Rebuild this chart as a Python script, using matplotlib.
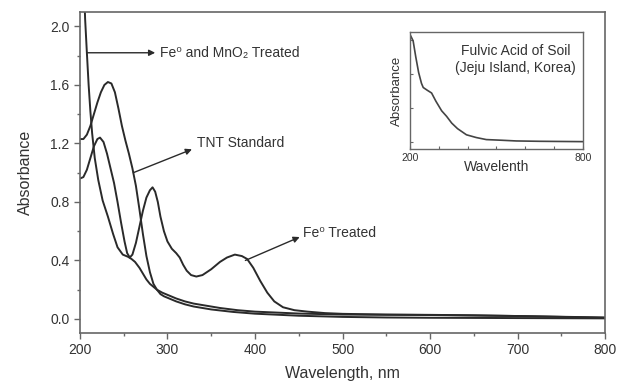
import numpy as np
import matplotlib
matplotlib.use("Agg")
import matplotlib.pyplot as plt
from matplotlib.ticker import MultipleLocator

plt.rcParams['font.family'] = ['Liberation Sans', 'DejaVu Sans']

# TNT standard
tnt_wl = [200, 204, 208, 212, 216, 220, 224, 228, 232, 236, 240, 244, 248, 252,
          256, 260, 264, 268, 272, 276, 280, 284, 288, 292, 296, 300, 310, 320,
          330, 350, 375, 400, 450, 500, 550, 600, 700, 800]
tnt_abs = [1.23, 1.23, 1.26, 1.32, 1.40, 1.48, 1.55, 1.60, 1.62, 1.61, 1.55, 1.44,
           1.32, 1.22, 1.13, 1.03, 0.91, 0.75, 0.58, 0.43, 0.32, 0.24, 0.20, 0.17,
           0.155, 0.145, 0.12, 0.10, 0.085, 0.065, 0.048, 0.036, 0.022, 0.014,
           0.010, 0.008, 0.006, 0.004]

# Fe0 treated
fe_wl = [200, 204, 208, 212, 216, 220, 223, 227, 231, 235, 239, 243, 247, 251,
         254, 257, 260, 264, 268, 272, 276, 280, 283, 286, 289, 292, 296, 300,
         305, 310, 314, 318, 322, 327, 333, 340, 350, 360, 368, 377, 385, 391,
         398, 406, 414, 422, 432, 445, 460, 480, 500, 550, 600, 650, 700, 750, 800]
fe_abs = [0.96, 0.97, 1.02, 1.10, 1.18, 1.23, 1.24, 1.21, 1.13, 1.03, 0.93, 0.80,
          0.66, 0.53, 0.45, 0.42, 0.44, 0.52, 0.63, 0.74, 0.83, 0.88, 0.90, 0.87,
          0.80, 0.70, 0.60, 0.53, 0.48, 0.45, 0.42, 0.37, 0.33, 0.30, 0.29, 0.30,
          0.34, 0.39, 0.42, 0.44, 0.43, 0.41, 0.35, 0.26, 0.18, 0.12, 0.08, 0.06,
          0.05, 0.04, 0.035, 0.03, 0.028, 0.025, 0.02, 0.015, 0.01]

# Fe0 and MnO2 treated
mn_wl = [204, 206, 208, 210, 212, 214, 217, 221, 226, 232, 238, 243, 249, 255,
         259, 263, 268, 272, 276, 280, 284, 288, 294, 300, 310, 320, 330, 345,
         360, 380, 400, 450, 500, 600, 700, 800]
mn_abs = [2.40, 2.05, 1.82, 1.60, 1.42, 1.27, 1.10, 0.95, 0.81, 0.70, 0.58, 0.49,
          0.44, 0.425, 0.41, 0.39, 0.35, 0.31, 0.27, 0.24, 0.22, 0.20, 0.18,
          0.165, 0.14, 0.12, 0.105, 0.09, 0.075, 0.06, 0.05, 0.037, 0.03, 0.027,
          0.02, 0.008]

# fulvic acid inset
fa_wl = [200, 203, 211, 220, 230, 240, 246, 260, 275, 290, 310, 327, 345, 365,
         396, 430, 465, 520, 569, 650, 800]
fa_abs = [1.57, 1.55, 1.48, 1.25, 1.02, 0.86, 0.80, 0.76, 0.72, 0.60, 0.46, 0.38,
          0.28, 0.20, 0.11, 0.07, 0.04, 0.03, 0.02, 0.015, 0.01]

txt = '#333333'
ln = '#2a2a2a'
spine = '#666666'

fig = plt.figure(figsize=(6.24, 3.81), dpi=100)
ax = fig.add_axes([0.128, 0.126, 0.842, 0.843])

for wl, a in [(tnt_wl, tnt_abs), (fe_wl, fe_abs), (mn_wl, mn_abs)]:
    ax.plot(wl, a, color=ln, lw=1.4)

ax.set_xlim(200, 800)
ax.set_ylim(-0.096, 2.1)
ax.xaxis.set_major_locator(MultipleLocator(100))
ax.xaxis.set_minor_locator(MultipleLocator(50))
ax.yaxis.set_major_locator(MultipleLocator(0.4))
ax.yaxis.set_minor_locator(MultipleLocator(0.2))
ax.tick_params(which='both', direction='out', colors=spine, labelcolor=txt,
               labelsize=10, top=False, right=False)
ax.tick_params(which='major', length=4, width=1)
ax.tick_params(which='minor', length=2.5, width=1)
for s in ax.spines.values():
    s.set_color(spine)
    s.set_linewidth(1.2)
ax.set_xlabel('Wavelength, nm', fontsize=11.5, color=txt, labelpad=6)
ax.set_ylabel('Absorbance', fontsize=11.5, color=txt, labelpad=12)

arrow = dict(arrowstyle='-|>', color=ln, lw=1, mutation_scale=9, shrinkA=0, shrinkB=0)
ax.annotate('', xy=(286, 1.82), xytext=(208, 1.82), arrowprops=arrow)
ax.text(291, 1.82, 'Fe\u2070 and MnO\u2082 Treated',
        fontsize=10, color=txt, va='center')
ax.annotate('', xy=(328, 1.16), xytext=(261, 1.0), arrowprops=arrow)
ax.text(334, 1.2, 'TNT Standard', fontsize=10, color=txt, va='center')
ax.annotate('', xy=(451, 0.56), xytext=(389, 0.40), arrowprops=arrow)
ax.text(455, 0.59, 'Fe\u2070 Treated', fontsize=10, color=txt, va='center')

# inset
ins = fig.add_axes([0.657, 0.609, 0.277, 0.307])
ins.plot(fa_wl, fa_abs, color='#444444', lw=1.2)
ins.set_xlim(200, 800)
ins.set_ylim(-0.097, 1.61)
ins.set_xticks(np.arange(200, 801, 100))
ins.set_xticklabels(['200', '', '', '', '', '', '800'])
ins.set_yticks([0, 0.5, 1.0, 1.5])
ins.set_yticklabels([])
ins.tick_params(direction='in', length=2.5, colors=spine, labelcolor=txt,
                labelsize=7.5, pad=3)
for s in ins.spines.values():
    s.set_color(spine)
    s.set_linewidth(1)
ins.set_xlabel('Wavelenth', fontsize=10, color=txt, labelpad=-2)
ins.set_ylabel('Absorbance', fontsize=9.5, color=txt, labelpad=2)
ins.text(0.61, 0.765, 'Fulvic Acid of Soil\n(Jeju Island, Korea)', transform=ins.transAxes,
         fontsize=10, color=txt, ha='center', va='center', linespacing=1.2)

fig.savefig('out.png', dpi=100)
